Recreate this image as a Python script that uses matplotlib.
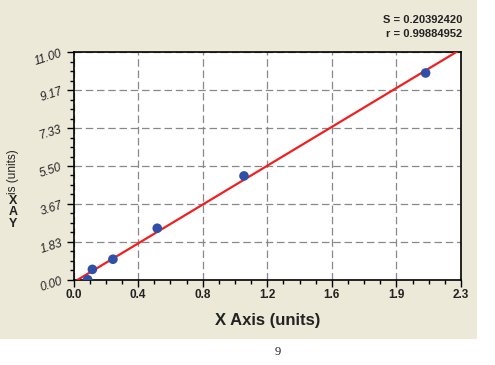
import matplotlib
matplotlib.use("Agg")
import matplotlib.pyplot as plt
import numpy as np
from matplotlib.patches import Rectangle

plt.rcParams['font.family'] = ['Liberation Sans', 'DejaVu Sans']

# data
x_vals = [0.084, 0.112, 0.234, 0.497, 1.012, 2.090]
y_vals = [0.00, 0.50, 0.99, 2.49, 5.02, 10.00]

x_ticks = np.linspace(0, 2.3, 7)
x_labels = ["0.0", "0.4", "0.8", "1.2", "1.6", "1.9", "2.3"]
y_ticks = np.linspace(0, 11, 7)
y_labels = ["0.00", "1.83", "3.67", "5.50", "7.33", "9.17", "11.00"]

s_text = "S = 0.20392420"
r_text = "r = 0.99884952"

fig = plt.figure(figsize=(4.95, 3.65), dpi=100, facecolor="white")
fig.patches.append(Rectangle((0, 1 - 339 / 365), 477 / 495, 339 / 365,
                             transform=fig.transFigure, facecolor="#ECE9D8",
                             edgecolor="none", zorder=-10))

ax = fig.add_axes([0.1485, 0.2337, 0.7828, 0.623])
ax.set_facecolor("white")

# linear fit
slope, icpt = np.polyfit(x_vals, y_vals, 1)
xs = np.array([-icpt / slope, 2.35])
ax.plot(xs, slope * xs + icpt, color="#F02020", lw=1.6, zorder=3)
ax.scatter(x_vals, y_vals, s=48, color="#3050A8", zorder=4, edgecolors="none")

ax.set_xlim(0, 2.3)
ax.set_ylim(0, 11)
ax.set_xticks(x_ticks)
ax.set_xticklabels(x_labels, fontsize=8.5, fontweight="bold", color="#222222")
ax.set_yticks(y_ticks)
ax.set_yticklabels(y_labels, fontsize=8.5, fontstyle="italic", rotation=18,
                   color="#222222")
ax.set_xticks(np.linspace(0, 2.3, 25), minor=True)
ax.set_yticks(np.linspace(0, 11, 25), minor=True)
ax.tick_params(which="major", length=5, width=1, direction="out", pad=2)
ax.tick_params(which="minor", length=3, width=1, direction="out")
ax.grid(True, which="major", linestyle=(0, (6, 3)), color="#888888", lw=0.9)
for sp in ax.spines.values():
    sp.set_linewidth(1.2)

ax.set_xlabel("X Axis (units)", fontsize=12, fontweight="bold",
              color="#222222", labelpad=8)

# oddly stacked y-axis label
fig.text(13 / 495, 1 - 230 / 365, "X\nA\nY", fontsize=9, fontweight="bold",
         ha="center", va="bottom", linespacing=0.95, color="#222222")
fig.text(13 / 495, 1 - 194 / 365, "is (units)", fontsize=8.5, rotation=90,
         ha="center", va="bottom", color="#222222")

fig.text(462 / 495, 1 - 20 / 365, s_text, fontsize=8, fontweight="bold",
         ha="right", va="center", color="#222222")
fig.text(462 / 495, 1 - 34 / 365, r_text, fontsize=8, fontweight="bold",
         ha="right", va="center", color="#222222")

fig.text(278 / 495, 1 - 352 / 365, "9", fontsize=9, family="Liberation Serif",
         ha="center", va="center", color="#222222")

fig.savefig("out.png", dpi=100, facecolor="white")
